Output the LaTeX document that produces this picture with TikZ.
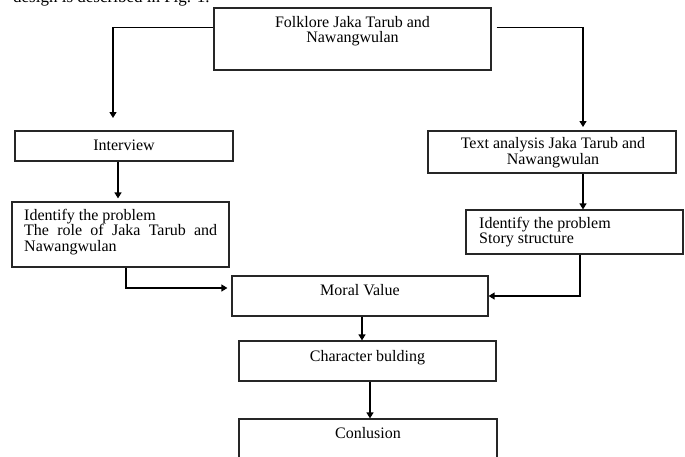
\documentclass[tikz,border=0pt]{standalone}
\usepackage{fontspec}
\setmainfont{Liberation Serif}
\usetikzlibrary{arrows.meta,calc}
\begin{document}
\begin{tikzpicture}[x=1pt,y=-1pt,
  box/.style={draw=black!85,line width=1.2pt,inner sep=0pt,fill=none},
  txt/.style={inner sep=0pt,font=\fontsize{16}{15.5}\selectfont},
  arr/.style={draw=black,line width=1.3pt,-{Triangle[length=6pt,width=7pt]}}]
\useasboundingbox (0,0) rectangle (685,456);
\clip (0,0) rectangle (685,456);
% caption fragment (cut at the top edge, as in the reference)
\node[inner sep=0pt,anchor=base west,font=\fontsize{17}{20}\selectfont] (cap) at (13,2) {design is described in Fig. 1.};
% boxes
\node[box,minimum width=277pt,minimum height=62pt] (folk) at (352.5,39) {};
\node[box,minimum width=218pt,minimum height=30pt] (interview) at (124,146) {};
\node[box,minimum width=217pt,minimum height=65pt] (idl) at (120.5,234.5) {};
\node[box,minimum width=248pt,minimum height=42pt] (text) at (552,152) {};
\node[box,minimum width=217pt,minimum height=44pt] (idr) at (574.5,232) {};
\node[box,minimum width=256pt,minimum height=40pt] (moral) at (360,296) {};
\node[box,minimum width=257pt,minimum height=40pt] (char) at (367.5,361) {};
\node[box,minimum width=258pt,minimum height=54pt] (concl) at (368,446) {};
% texts (multi-line nodes: base = last line)
\node[txt,align=center,anchor=base] (tfolk) at (352.5,42.5) {Folklore Jaka Tarub and\\Nawangwulan};
\node[txt,anchor=base] (tinterview) at (124,150) {Interview};
\node[txt,text width=193pt,align=justify,anchor=base west] (tidl) at (24,220) {Identify the problem\\The role of Jaka Tarub and Nawangwulan};
\node[txt,align=center,anchor=base] (ttext) at (553,164) {Text analysis Jaka Tarub and\\Nawangwulan};
\node[txt,align=left,anchor=base west] (tidr) at (479,243.5) {Identify the problem\\Story structure};
\node[txt,anchor=base] (tmoral) at (360,295) {Moral Value};
\node[txt,anchor=base] (tchar) at (367.5,361) {Character bulding};
\node[txt,anchor=base] (tconcl) at (368,438) {Conlusion};
% connectors
\coordinate (lt) at (113,118);
\coordinate (rt) at (583,127);
\draw[arr] ($(folk.north west)+(0,20)$) -| (lt);
\draw[arr] ($(folk.north east)+(5,20)$) -| (rt);
\draw[arr] (interview.south -| 118,0) -- ($(idl.north -| 118,0)+(0,-3)$);
\draw[arr] (text.south -| 583,0) -- (idr.north -| 583,0);
\draw[arr] (idl.south -| 126,0) |- ($(moral.west |- 0,288)+(-4,0)$);
\draw[arr] (idr.south -| 580,0) |- (moral.east);
\draw[arr] (moral.south -| 362,0) -- (char.north -| 362,0);
\draw[arr] (char.south -| 370,0) -- (concl.north -| 370,0);
\end{tikzpicture}
\end{document}
